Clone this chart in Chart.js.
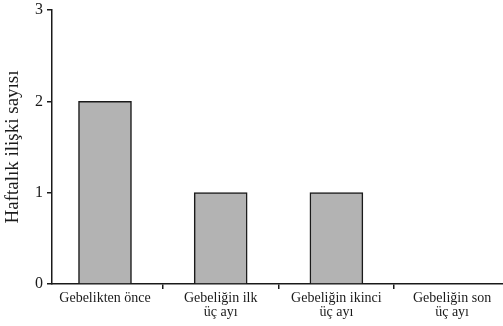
<!DOCTYPE html>
<html>
<head>
<meta charset="utf-8">
<script src="https://cdn.jsdelivr.net/npm/chart.js@4"></script>
<style>
  html, body { margin: 0; padding: 0; background: #fff; overflow: hidden; }
  #wrap { width: 503px; height: 326px; }
</style>
</head>
<body>
<div id="wrap"><canvas id="myBarChart"></canvas></div>
<script>
var categories = [
  ["Gebelikten önce"],
  ["Gebeliğin ilk", "üç ayı"],
  ["Gebeliğin ikinci", "üç ayı"],
  ["Gebeliğin son", "üç ayı"]
];
var values = [2, 1, 1, 0];
var yTicks = [0, 1, 2, 3];
var yTitle = "Haftalık ilişki sayısı";

var ctx = document.getElementById("myBarChart");
var serif = "'Liberation Serif', 'Times New Roman', serif";
var ink = "#1a1a1a";

new Chart(ctx, {
  type: "bar",
  data: {
    datasets: [
      {
        data: values.map((v, i) => ({ x: i, y: v })),
        backgroundColor: "#b3b3b3",
        borderColor: ink,
        borderWidth: 1.5,
        borderSkipped: "bottom",
        barThickness: 53,
      },
    ],
  },
  options: {
    responsive: true,
    maintainAspectRatio: false,
    animation: false,
    layout: { padding: { top: 10, right: 0, bottom: 0, left: 0 } },
    plugins: { legend: { display: false }, tooltip: { enabled: false } },
    scales: {
      x: {
        type: "linear",
        offset: false,
        min: -0.458,
        max: 3.44,
        afterBuildTicks: (scale) => {
          var t = [];
          categories.forEach((c, i) => {
            t.push({ value: i });
            if (i < categories.length - 1) t.push({ value: i + 0.5 });
          });
          scale.ticks = t;
        },
        afterFit: (scale) => { scale.height = 42; },
        ticks: {
          autoSkip: false,
          maxRotation: 0,
          padding: 2,
          color: ink,
          font: { family: serif, size: 14, lineHeight: 1.0 },
          callback: (v) => (Number.isInteger(v) ? categories[v] : ""),
        },
        grid: {
          offset: false,
          drawOnChartArea: false,
          drawTicks: true,
          tickLength: 5,
          lineWidth: 1.5,
          color: (c) => (c.tick && c.tick.value % 1 !== 0 ? ink : "rgba(0,0,0,0)"),
        },
        border: { display: true, color: ink, width: 1.5 },
      },
      y: {
        min: 0,
        max: 3,
        afterBuildTicks: (scale) => { scale.ticks = yTicks.map((v) => ({ value: v })); },
        afterFit: (scale) => { scale.width = 52; },
        ticks: {
          padding: 4,
          color: ink,
          font: { family: serif, size: 16, lineHeight: 0.5 },
        },
        grid: {
          drawOnChartArea: false,
          drawTicks: true,
          tickLength: 5,
          lineWidth: 1.5,
          color: ink,
        },
        border: { display: true, color: ink, width: 1.5 },
        title: {
          display: true,
          text: yTitle,
          color: ink,
          padding: { top: 2, bottom: 0 },
          font: { family: serif, size: 19 },
        },
      },
    },
  },
});
</script>
</body>
</html>
